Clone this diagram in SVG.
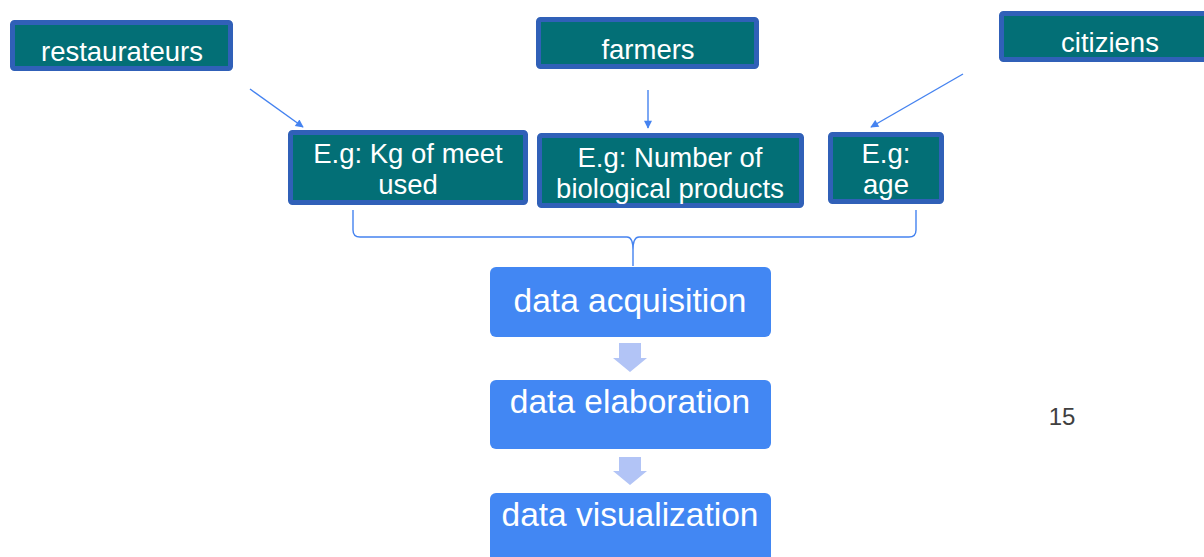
<svg xmlns="http://www.w3.org/2000/svg" width="1204" height="557" viewBox="0 0 1204 557">
<style>
.src rect{fill:#036f76;stroke:#3060b8;stroke-width:5}
.src text{fill:#ffffff;font-family:"Liberation Sans",Arial,sans-serif;font-size:27.5px;text-anchor:middle}
.step rect{fill:#4287f3}
.step text{fill:#ffffff;font-family:"Liberation Sans",Arial,sans-serif;font-size:33.5px;text-anchor:middle}
.conn{stroke:#4583f0;stroke-width:1.4;fill:none}
.down{fill:#b2c4f6}
</style>
<defs>
<marker id="ah" viewBox="0 0 10 10" refX="9" refY="5" markerWidth="10" markerHeight="8" markerUnits="userSpaceOnUse" orient="auto">
<path d="M0,0 L10,5 L0,10 Z" fill="#4583f0"/>
</marker>
</defs>
<rect width="1204" height="557" fill="#ffffff"/>
<g id="restaurateurs" class="src"><rect x="12.5" y="22.5" width="218" height="46" rx="2"/><text x="122" y="61">restaurateurs</text></g>
<g id="farmers" class="src"><rect x="538.5" y="19.5" width="218" height="47" rx="2"/><text x="648" y="59">farmers</text></g>
<g id="citiziens" class="src"><rect x="1001.5" y="13.5" width="218" height="46" rx="2"/><text x="1110" y="52">citiziens</text></g>
<g id="kg" class="src"><rect x="290.5" y="132.5" width="235" height="70" rx="2"/><text x="408" y="163">E.g: Kg of meet</text><text x="408" y="194">used</text></g>
<g id="number" class="src"><rect x="539.5" y="135.5" width="262" height="70" rx="2"/><text x="670" y="167">E.g: Number of</text><text x="670" y="198">biological products</text></g>
<g id="age" class="src"><rect x="830.5" y="134.5" width="111" height="67" rx="2"/><text x="886" y="163">E.g:</text><text x="886" y="194">age</text></g>
<g id="acquisition" class="step"><rect x="490" y="267" width="281" height="70" rx="6"/><text x="630" y="312">data acquisition</text></g>
<g id="elaboration" class="step"><rect x="490" y="380" width="281" height="69" rx="6"/><text x="630" y="413">data elaboration</text></g>
<g id="visualization" class="step"><rect x="490" y="493" width="281" height="75" rx="6"/><text x="630" y="526">data visualization</text></g>
<text id="page" x="1062" y="425" fill="#404040" font-family="'Liberation Sans',Arial,sans-serif" font-size="24" text-anchor="middle">15</text>
<g id="connectors">
<line class="conn" x1="250" y1="89" x2="303" y2="127" marker-end="url(#ah)"/>
<line class="conn" x1="648" y1="90" x2="648" y2="128" marker-end="url(#ah)"/>
<line class="conn" x1="963" y1="74" x2="871" y2="127" marker-end="url(#ah)"/>
<path class="conn" stroke-width="1.8" d="M353,210 L353,230 Q353,237 360,237 L627,237 Q633,237 633,250 L633,266 M916,210 L916,230 Q916,237 909,237 L639,237 Q633,237 633,250"/>
<path class="down" d="M619,343 L641,343 L641,358 L647,358 L630,372 L613,358 L619,358 Z"/>
<path class="down" d="M619,457 L641,457 L641,471 L647,471 L630,485 L613,471 L619,471 Z"/>
</g>
</svg>
